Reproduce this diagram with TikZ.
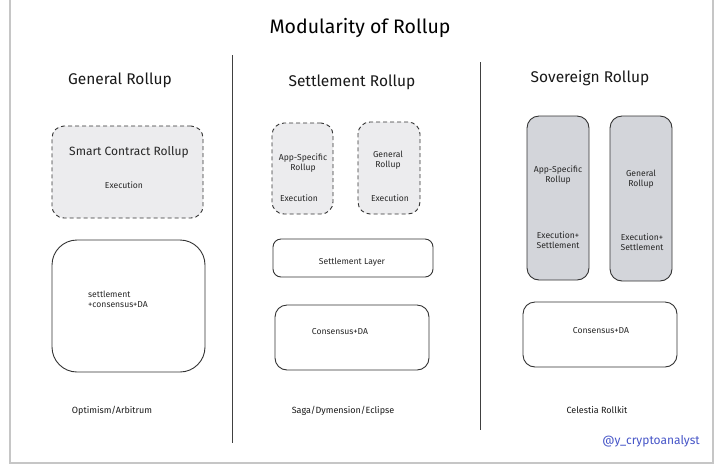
\documentclass[tikz,border=0pt]{standalone}
\usepackage{fontspec}
\setmainfont{Fira Sans}
\definecolor{sovfill}{RGB}{211,213,218}
\definecolor{dfill}{RGB}{236,236,238}
\definecolor{handle}{RGB}{70,85,200}
\begin{document}
\begin{tikzpicture}[x=1pt,y=-1pt,
  box/.style={draw=black!80,line width=0.9pt,rounded corners=#1,inner sep=0pt},
  box/.default=12pt,
  dbox/.style={box=12pt,dash pattern=on 4pt off 3pt,fill=dfill},
  gbox/.style={box=12pt,fill=sovfill},
  txt/.style={font=\fontsize{8.6}{10}\selectfont,align=center,inner sep=0pt,text=black!85},
  head/.style={font=\fontsize{15.5}{18}\selectfont,inner sep=0pt,text=black!90},
  foot/.style={font=\fontsize{9}{11}\selectfont,inner sep=0pt,text=black!90}]
\useasboundingbox (0,0) rectangle (720,467);
\fill[white] (0,0) rectangle (720,467);
% frame
\draw[gray!45,line width=1.2pt] (10,-2) -- (10,463) -- (713,463) -- (713,-2);
% title
\node[font=\fontsize{19.5}{22}\selectfont,inner sep=0pt] (title) at (360,28) {Modularity of Rollup};
% dividers
\coordinate (d1a) at (232,55); \coordinate (d1b) at (232,443);
\coordinate (d2a) at (480,62); \coordinate (d2b) at (480,430);
\draw[black!75,line width=0.9pt] (d1a) -- (d1b);
\draw[black!75,line width=0.9pt] (d2a) -- (d2b);
% headers
\node[head] (h1) at (120,80) {General Rollup};
\node[head] (h2) at (352,82) {Settlement Rollup};
\node[head] (h3) at (590,78) {Sovereign Rollup};
% column 1
\node[dbox,minimum width=151pt,minimum height=92pt] (scr) at (127.5,172) {};
\node[txt,font=\fontsize{12}{14}\selectfont] (scrt) at (129,152) {Smart Contract Rollup};
\node[txt] (scre) at (124,185) {Execution};
\node[box=25pt,minimum width=153pt,minimum height=132pt] (s1) at (128.5,306) {};
\node[txt,align=left,anchor=west] (s1t) at (88,299) {settlement\\+consensus+DA};
\node[foot] (f1) at (112,411) {Optimism/Arbitrum};
% column 2
\node[dbox,minimum width=61pt,minimum height=91pt] (app2) at (302.5,168.5) {};
\node[txt] (app2t) at (303,163) {App-Specific\\Rollup};
\node[txt] (app2e) at (299,198) {Execution};
\node[dbox,minimum width=62pt,minimum height=92pt] (gen2) at (389,168) {};
\node[txt] (gen2t) at (388,160) {General\\Rollup};
\node[txt] (gen2e) at (390,198) {Execution};
\node[box=8pt,minimum width=160pt,minimum height=38pt] (sl) at (353,258) {};
\node[txt] (slt) at (352,262) {Settlement Layer};
\node[box=12pt,minimum width=154pt,minimum height=65pt] (cda2) at (352,337.5) {};
\node[txt] (cda2t) at (340,332) {Consensus+DA};
\node[foot] (f2) at (343,411) {Saga/Dymension/Eclipse};
% column 3
\node[gbox,minimum width=62pt,minimum height=164pt] (app3) at (558,198) {};
\node[txt] (app3t) at (558,175) {App-Specific\\Rollup};
\node[txt] (app3e) at (558,240) {Execution+\\Settlement};
\node[gbox,minimum width=62pt,minimum height=165pt] (gen3) at (641,198.5) {};
\node[txt] (gen3t) at (641,179) {General\\Rollup};
\node[txt] (gen3e) at (642,242) {Execution+\\Settlement};
\node[box=12pt,minimum width=154pt,minimum height=65pt] (cda3) at (600,334.5) {};
\node[txt] (cda3t) at (601,331) {Consensus+DA};
\node[foot] (f3) at (597,410) {Celestia Rollkit};
% handle
\node[font=\fontsize{12}{14}\selectfont,text=handle,inner sep=0pt] (hnd) at (651,441) {@y\_cryptoanalyst};
\end{tikzpicture}
\end{document}
